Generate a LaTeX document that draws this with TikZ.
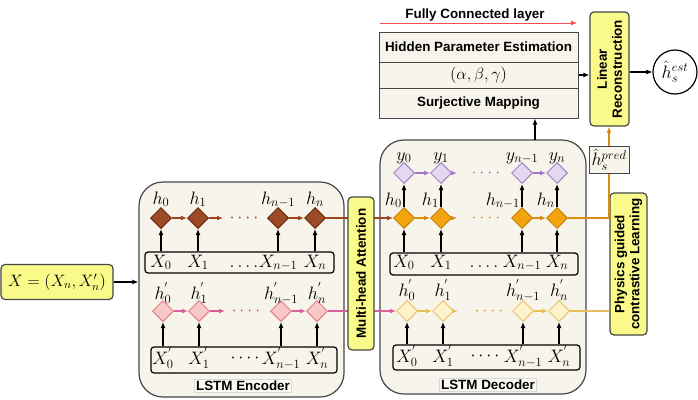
\RequirePackage{fix-cm}
\documentclass[tikz,border=0pt]{standalone}
\usepackage{amsmath}
\usepackage{fontspec}
\setsansfont{Liberation Sans}
\usepackage{tikz}
\usetikzlibrary{arrows.meta}
\usetikzlibrary{shapes.geometric}
\usetikzlibrary{calc}
\usepackage{xcolor}

\definecolor{cream}{HTML}{F7F4EB}
\definecolor{boxyellow}{HTML}{FAFA8A}
\definecolor{edge}{HTML}{474747}
\definecolor{encfill}{HTML}{9C4B26}
\definecolor{encdraw}{HTML}{6B2A0E}
\definecolor{encline}{HTML}{A0421C}
\definecolor{pinkfill}{HTML}{F8C8C8}
\definecolor{pinkdraw}{HTML}{E2807F}
\definecolor{pinkline}{HTML}{D6609A}
\definecolor{pinkdots}{HTML}{C4512E}
\definecolor{purpfill}{HTML}{E4D8F0}
\definecolor{purpdraw}{HTML}{A682C8}
\definecolor{purpline}{HTML}{A474CC}
\definecolor{orfill}{HTML}{F2A40E}
\definecolor{ordraw}{HTML}{C68307}
\definecolor{orline}{HTML}{DA8D10}
\definecolor{ltfill}{HTML}{FFF2CD}
\definecolor{ltdraw}{HTML}{E6C66C}
\definecolor{ltline}{HTML}{E4BF5C}
\definecolor{fcred}{HTML}{FF4D4D}

\newcommand{\labfont}{\fontsize{18}{21}\selectfont}
\newcommand{\xinfont}{\fontsize{16.5}{19}\selectfont}
\newcommand{\boxfont}{\fontsize{13.4}{15}\selectfont\sffamily\bfseries}

\tikzset{
  bigbox/.style={draw=edge, line width=1.2pt, fill=cream, rounded corners=24pt, inner sep=0pt},
  tabbox/.style={fill=white!45!cream, draw=gray!30, line width=0.6pt, inner sep=1.5pt, font=\boxfont},
  ybox/.style={draw=edge, line width=1.2pt, fill=boxyellow, rounded corners=4pt, inner sep=0pt, font=\boxfont, align=center},
  inbox/.style={draw=black, line width=1.2pt, rounded corners=3pt, inner sep=0pt, fill=cream},
  fcbox/.style={draw=edge, line width=1pt, fill=cream, inner sep=0pt, minimum width=199pt, font=\boxfont},
  mlab/.style={font=\labfont, inner sep=0pt, anchor=base},
  dia/.style={diamond, aspect=1, minimum size=21pt, inner sep=0pt, line width=1pt},
  encdia/.style={dia, fill=encfill, draw=encdraw},
  pinkdia/.style={dia, fill=pinkfill, draw=pinkdraw},
  purpdia/.style={dia, fill=purpfill, draw=purpdraw},
  ordia/.style={dia, fill=orfill, draw=ordraw},
  ltdia/.style={dia, fill=ltfill, draw=ltdraw},
  arr/.style={-{Latex[length=6pt,width=5pt]}, line width=1.2pt},
  dots/.style={font=\labfont, inner sep=0pt}
}

\begin{document}
\begin{tikzpicture}[x=1pt,y=-1pt]
    \useasboundingbox (0,0) rectangle (698,399);

    % encoder and decoder blocks
    \node[bigbox, minimum width=205pt, minimum height=215pt] (enc) at (241.5,289.5) {};
    \node[bigbox, minimum width=206pt, minimum height=254pt] (dec) at (483,267) {};
    \node[tabbox] (enclab) at (243,386) {LSTM Encoder};
    \node[tabbox] (declab) at (488,385) {LSTM Decoder};

    \node[inbox, minimum width=189pt, minimum height=21pt] (eabox) at (239.5,262.5) {};
    \node[inbox, minimum width=186pt, minimum height=26pt] (ebbox) at (244,360) {};
    \node[inbox, minimum width=188pt, minimum height=22pt] (dabox) at (484,264) {};
    \node[inbox, minimum width=187pt, minimum height=25pt] (dbbox) at (486.5,357.5) {};

    % encoder, upper row
    \foreach \i/\x/\s in {0/161/0,1/198/1,2/278/n-1,3/315/n}{
      \node[encdia] (eh\i) at (\x,218) {};
      \node[mlab] (ehl\i) at (\x,204) {$h_{\s}$};
      \node[mlab] (ex\i) at (\x,267) {$X_{\s}$};
      \draw[arr] (ex\i |- eabox.north) -- (eh\i.south);
    }
    \coordinate (eaend) at (223,218);
    \draw[arr, encline] (eh0) -- (eh1);
    \draw[arr, encline] (eh1) -- (eaend);
    \draw[arr, encline] (eh2) -- (eh3);
    \node[dots, text=encline] (eadots) at (244,218) {${\cdot}\,{\cdot}\,{\cdot}\,{\cdot}$};
    \node[mlab] (eaxdots) at (244,267) {${.}\,{.}\,{.}\,{.}$};

    % encoder, lower row
    \foreach \i/\x/\s in {0/163/0,1/199/1,2/281/n-1,3/317/n}{
      \node[pinkdia] (ep\i) at (\x,311) {};
      \node[mlab] (epl\i) at (\x,299) {$h^{'}_{\s}$};
      \node[mlab] (epx\i) at (\x,364) {$X^{'}_{\s}$};
      \draw[arr] (epx\i |- ebbox.north) -- (ep\i.south);
    }
    \coordinate (ebend) at (225,311);
    \draw[arr, pinkline] (ep0) -- (ep1);
    \draw[arr, pinkline] (ep1) -- (ebend);
    \draw[arr, pinkline] (ep2) -- (ep3);
    \node[dots, text=pinkdots] (ebdots) at (246,311) {${\cdot}\,{\cdot}\,{\cdot}\,{\cdot}$};
    \node[dots] (ebxdots) at (245,358) {${\cdot}\,{\cdot}\,{\cdot}\,{\cdot}$};

    % decoder, output and hidden rows
    \foreach \i/\x/\s in {0/404/0,1/441/1,2/522/n-1,3/557/n}{
      \node[purpdia] (dy\i) at (\x,173) {};
      \node[mlab] (dyl\i) at (\x,160) {$y_{\s}$};
      \node[ordia] (dh\i) at (\x,218) {};
      \node[mlab, anchor=base east] (dhl\i) at (\x-2,205) {$h_{\s}$};
      \node[mlab] (dx\i) at (\x,267) {$X_{\s}$};
      \draw[arr] (dx\i |- dabox.north) -- (dh\i.south);
      \draw[arr] (dh\i.north) -- (dy\i.south);
    }
    \coordinate (dyend) at (457,173);
    \coordinate (dhend) at (457,218);
    \draw[arr, purpline] (dy0) -- (dy1);
    \draw[arr, purpline] (dy1) -- (dyend);
    \draw[arr, purpline] (dy2) -- (dy3);
    \draw[arr, orline] (dh0) -- (dh1);
    \draw[arr, orline] (dh1) -- (dhend);
    \draw[arr, orline] (dh2) -- (dh3);
    \node[dots, text=purpline] (dydots) at (486,173) {${\cdot}\,{\cdot}\,{\cdot}\,{\cdot}$};
    \node[dots, text=orline] (dhdots) at (486,218) {${\cdot}\,{\cdot}\,{\cdot}\,{\cdot}$};
    \node[mlab] (daxdots) at (484,267) {${.}\,{.}\,{.}\,{.}$};

    % decoder, lower row
    \foreach \i/\x/\s in {0/407/0,1/443/1,2/523/n-1,3/559/n}{
      \node[ltdia] (dp\i) at (\x,311) {};
      \node[mlab] (dpl\i) at (\x,296) {$h^{'}_{\s}$};
      \node[mlab] (dpx\i) at (\x,362) {$X^{'}_{\s}$};
      \draw[arr] (dpx\i |- dbbox.north) -- (dp\i.south);
    }
    \coordinate (dbend) at (458,311);
    \draw[arr, ltline] (dp0) -- (dp1);
    \draw[arr, ltline] (dp1) -- (dbend);
    \draw[arr, ltline] (dp2) -- (dp3);
    \node[dots, text=orline] (dbdots) at (489,311) {${\cdot}\,{\cdot}\,{\cdot}\,{\cdot}$};
    \node[dots] (dbxdots) at (485,356) {${\cdot}\,{\cdot}\,{\cdot}\,{\cdot}$};

    % encoder to decoder, through attention
    \draw[arr, encline] (eh3) -- (dh0);
    \draw[arr, pinkline] (ep3) -- (dp0);
    \node[ybox, rotate=90, minimum width=153pt, minimum height=26pt] (mha) at (361,273.5) {Multi-head Attention};

    % input
    \node[ybox, font=\xinfont, minimum width=112pt, minimum height=35pt] (xin) at (57,282) {$X = (X_n, X'_n)$};
    \draw[arr] (xin.east) -- (xin.east -| enc.west);

    % fully connected stack
    \node[fcbox, minimum height=30pt] (hpe) at (478.5,47) {Hidden Parameter Estimation};
    \node[fcbox, minimum height=26pt, font=\xinfont] (abg) at (478.5,75) {$(\alpha, \beta, \gamma)$};
    \node[fcbox, minimum height=30pt] (sur) at (478.5,103) {Surjective Mapping};
    \node[font=\boxfont, inner sep=0pt] (fclab) at (475,15) {Fully Connected layer};
    \coordinate (fcl) at (380,23);
    \coordinate (fcr) at (577,23);
    \draw[-{Latex[length=6pt,width=5pt]}, fcred, line width=0.9pt] (fcl) -- (fcr);
    \coordinate (dectop) at (535,140);
    \draw[arr] (dectop) -- (dectop |- sur.south);

    % output side
    \node[ybox, rotate=90, minimum width=114pt, minimum height=39pt] (linrec) at (609.5,69) {Linear\\Reconstruction};
    \node[draw=edge, line width=1pt, fill=cream, inner sep=1pt, minimum width=40pt, minimum height=27pt, font=\labfont] (pred) at (609,159.5) {$\hat{h}_s^{pred}$};
    \node[ybox, rotate=90, minimum width=142pt, minimum height=37pt] (phys) at (628.5,264) {Physics guided\\contrastive Learning};
    \node[draw=black, line width=1.2pt, fill=white, circle, minimum size=44pt, inner sep=0pt, font=\labfont] (est) at (675,72) {$\hat{h}_s^{est}$};

    \draw[arr] (abg.east) -- (abg.east -| linrec.north);
    \draw[arr] (linrec.south |- est) -- (est.west);
    \draw[orline, line width=1.2pt] (dh3) -- (dh3 -| phys.north);
    \draw[orline, line width=1.2pt] (dh3 -| pred) -- (pred.south);
    \draw[arr, orline] (pred.north) -- (pred |- linrec.west);
    \draw[ltline, line width=1.2pt] (dp3) -- (dp3 -| phys.north);
\end{tikzpicture}
\end{document}
